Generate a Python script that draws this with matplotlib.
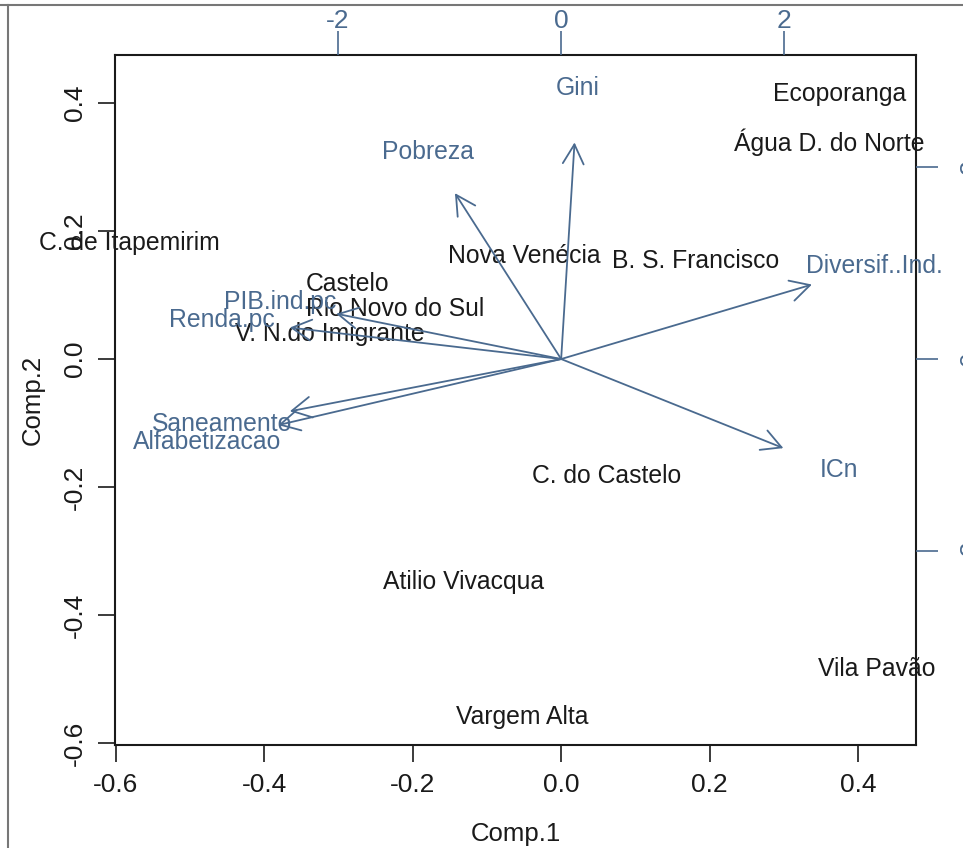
import matplotlib
matplotlib.use("Agg")
import matplotlib.pyplot as plt
from matplotlib.lines import Line2D
import numpy as np

plt.rcParams['font.family'] = ['Liberation Sans', 'DejaVu Sans']

# scores (bottom / left axes)
places = ['Ecoporanga', 'Água D. do Norte', 'C. de Itapemirim', 'Nova Venécia',
          'B. S. Francisco', 'Castelo', 'Rio Novo do Sul', 'V. N.do Imigrante',
          'C. do Castelo', 'Atilio Vivacqua', 'Vila Pavão', 'Vargem Alta']
comp1 = [0.375, 0.361, -0.582, -0.050, 0.181, -0.288, -0.224, -0.311,
         0.061, -0.132, 0.425, -0.053]
comp2 = [0.414, 0.338, 0.181, 0.161, 0.153, 0.117, 0.078, 0.039,
         -0.183, -0.348, -0.484, -0.559]

# loadings (top / right axes)
variables = ['Gini', 'Pobreza', 'Diversif..Ind.', 'ICn', 'PIB.ind.pc',
             'Renda.pc', 'Saneamento', 'Alfabetizacao']
load1 = [0.15, -1.19, 2.81, 2.49, -2.52, -3.04, -3.04, -3.17]
load2 = [2.82, 2.16, 0.97, -1.16, 0.59, 0.41, -0.68, -0.86]

xticks = [-0.6, -0.4, -0.2, 0.0, 0.2, 0.4]
yticks = [-0.6, -0.4, -0.2, 0.0, 0.2, 0.4]
top_ticks = [-2, 0, 2]
right_ticks = [-2, 0, 2]

blue = '#4a6a8f'
dark = '#1a1a1a'

fig = plt.figure(figsize=(9.63, 8.48), dpi=100)
ax = fig.add_axes([0.1194, 0.1215, 0.8318, 0.8136])
ax.set_xlim(-0.601, 0.478)
ax.set_ylim(-0.603, 0.475)

for s in ax.spines.values():
    s.set_linewidth(1.5)
    s.set_color(dark)

ax.set_xticks(xticks)
ax.set_xticklabels([f"{v:.1f}" for v in xticks])
ax.set_yticks(yticks)
ax.set_yticklabels([f"{v:.1f}" for v in yticks], rotation=90, va='center')
ax.tick_params(axis='both', length=12, width=1.2, color=dark, labelsize=19,
               labelcolor=dark, pad=8)
ax.set_xlabel('Comp.1', fontsize=18.5, color=dark, labelpad=18)
ax.set_ylabel('Comp.2', fontsize=18.5, color=dark, labelpad=13)

for name, x, y in zip(places, comp1, comp2):
    ax.text(x, y, name, ha='center', va='center', fontsize=17.8, color=dark,
            clip_on=False)

# secondary axes for the loadings
axl = fig.add_axes(ax.get_position(), frameon=False)
scale_x = 111.5 / 742.0
scale_y = 96.0 / 640.0
axl.set_xlim(ax.get_xlim()[0] / scale_x, ax.get_xlim()[1] / scale_x)
axl.set_ylim(ax.get_ylim()[0] / scale_y, ax.get_ylim()[1] / scale_y)
axl.xaxis.tick_top()
axl.yaxis.tick_right()
axl.set_xticks(top_ticks)
axl.set_xticklabels([str(v) for v in top_ticks])
axl.set_yticks(right_ticks)
axl.set_yticklabels([str(v) for v in right_ticks], rotation=90, va='center')
axl.tick_params(axis='x', length=17, width=1.2, color=blue, labelsize=19,
                labelcolor=blue, pad=-1)
axl.tick_params(axis='y', length=16, width=1.2, color=blue, labelsize=19,
                labelcolor=blue, pad=15)

for name, x, y in zip(variables, load1, load2):
    axl.annotate('', xy=(0.8 * x, 0.8 * y), xytext=(0, 0),
                 arrowprops=dict(arrowstyle='->,head_length=1.4,head_width=0.75',
                                 color=blue, lw=1.3, shrinkA=0, shrinkB=0,
                                 mutation_scale=10))
    axl.text(x, y, name, ha='center', va='center', fontsize=17.8, color=blue,
             clip_on=False)

# outer gray frame of the screenshot
fig.add_artist(Line2D([0, 1], [0.994, 0.994], transform=fig.transFigure,
                      color='#777777', lw=1.5))
fig.add_artist(Line2D([0.0085, 0.0085], [0, 0.994], transform=fig.transFigure,
                      color='#777777', lw=1.5))

fig.savefig('out.png', dpi=100)
